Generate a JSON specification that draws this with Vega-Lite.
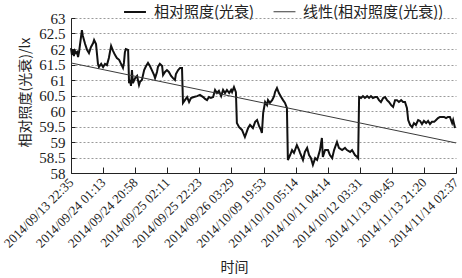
{
  "$schema": "https://vega.github.io/schema/vega-lite/v6.json",
  "autosize": {"type": "none"},
  "width": 385,
  "height": 155,
  "padding": {"left": 71, "top": 18, "right": 6, "bottom": 105},
  "background": "white",
  "config": {
    "view": {"stroke": null},
    "font": "Liberation Serif, Noto Sans CJK SC",
    "axis": {"labelFont": "Liberation Serif", "labelColor": "#222", "titleColor": "#222", "domainColor": "#222", "tickColor": "#222", "titleFontWeight": "normal"},
    "legend": {"labelFont": "Liberation Serif, Noto Sans CJK SC", "labelColor": "#222"}
  },
  "data": {
    "values": [
      {"t": 0, "v": 62.03, "s": "相对照度(光衰)"},
      {"t": 0.03, "v": 61.81, "s": "相对照度(光衰)"},
      {"t": 0.06, "v": 61.97, "s": "相对照度(光衰)"},
      {"t": 0.09, "v": 61.77, "s": "相对照度(光衰)"},
      {"t": 0.12, "v": 61.94, "s": "相对照度(光衰)"},
      {"t": 0.16, "v": 61.87, "s": "相对照度(光衰)"},
      {"t": 0.19, "v": 61.9, "s": "相对照度(光衰)"},
      {"t": 0.22, "v": 61.74, "s": "相对照度(光衰)"},
      {"t": 0.25, "v": 61.9, "s": "相对照度(光衰)"},
      {"t": 0.28, "v": 62.13, "s": "相对照度(光衰)"},
      {"t": 0.34, "v": 62.61, "s": "相对照度(光衰)"},
      {"t": 0.37, "v": 62.42, "s": "相对照度(光衰)"},
      {"t": 0.44, "v": 62.16, "s": "相对照度(光衰)"},
      {"t": 0.5, "v": 61.97, "s": "相对照度(光衰)"},
      {"t": 0.56, "v": 61.87, "s": "相对照度(光衰)"},
      {"t": 0.62, "v": 62.06, "s": "相对照度(光衰)"},
      {"t": 0.69, "v": 62.19, "s": "相对照度(光衰)"},
      {"t": 0.72, "v": 62.29, "s": "相对照度(光衰)"},
      {"t": 0.78, "v": 62.16, "s": "相对照度(光衰)"},
      {"t": 0.84, "v": 61.52, "s": "相对照度(光衰)"},
      {"t": 0.87, "v": 61.42, "s": "相对照度(光衰)"},
      {"t": 0.94, "v": 61.52, "s": "相对照度(光衰)"},
      {"t": 1.0, "v": 61.42, "s": "相对照度(光衰)"},
      {"t": 1.06, "v": 61.52, "s": "相对照度(光衰)"},
      {"t": 1.12, "v": 61.48, "s": "相对照度(光衰)"},
      {"t": 1.18, "v": 61.71, "s": "相对照度(光衰)"},
      {"t": 1.25, "v": 62.1, "s": "相对照度(光衰)"},
      {"t": 1.31, "v": 61.94, "s": "相对照度(光衰)"},
      {"t": 1.37, "v": 61.81, "s": "相对照度(光衰)"},
      {"t": 1.43, "v": 61.71, "s": "相对照度(光衰)"},
      {"t": 1.5, "v": 61.65, "s": "相对照度(光衰)"},
      {"t": 1.56, "v": 61.52, "s": "相对照度(光衰)"},
      {"t": 1.62, "v": 61.39, "s": "相对照度(光衰)"},
      {"t": 1.65, "v": 61.55, "s": "相对照度(光衰)"},
      {"t": 1.68, "v": 61.9, "s": "相对照度(光衰)"},
      {"t": 1.71, "v": 62.0, "s": "相对照度(光衰)"},
      {"t": 1.78, "v": 61.97, "s": "相对照度(光衰)"},
      {"t": 1.81, "v": 60.9, "s": "相对照度(光衰)"},
      {"t": 1.84, "v": 61.0, "s": "相对照度(光衰)"},
      {"t": 1.87, "v": 60.81, "s": "相对照度(光衰)"},
      {"t": 1.9, "v": 61.32, "s": "相对照度(光衰)"},
      {"t": 1.93, "v": 60.9, "s": "相对照度(光衰)"},
      {"t": 2.0, "v": 61.06, "s": "相对照度(光衰)"},
      {"t": 2.06, "v": 61.13, "s": "相对照度(光衰)"},
      {"t": 2.12, "v": 60.84, "s": "相对照度(光衰)"},
      {"t": 2.15, "v": 60.94, "s": "相对照度(光衰)"},
      {"t": 2.21, "v": 61.0, "s": "相对照度(光衰)"},
      {"t": 2.28, "v": 61.32, "s": "相对照度(光衰)"},
      {"t": 2.34, "v": 61.45, "s": "相对照度(光衰)"},
      {"t": 2.4, "v": 61.55, "s": "相对照度(光衰)"},
      {"t": 2.46, "v": 61.45, "s": "相对照度(光衰)"},
      {"t": 2.52, "v": 61.32, "s": "相对照度(光衰)"},
      {"t": 2.59, "v": 61.16, "s": "相对照度(光衰)"},
      {"t": 2.62, "v": 61.06, "s": "相对照度(光衰)"},
      {"t": 2.68, "v": 61.26, "s": "相对照度(光衰)"},
      {"t": 2.71, "v": 61.42, "s": "相对照度(光衰)"},
      {"t": 2.77, "v": 61.52, "s": "相对照度(光衰)"},
      {"t": 2.84, "v": 61.45, "s": "相对照度(光衰)"},
      {"t": 2.87, "v": 61.16, "s": "相对照度(光衰)"},
      {"t": 2.93, "v": 61.26, "s": "相对照度(光衰)"},
      {"t": 2.99, "v": 61.32, "s": "相对照度(光衰)"},
      {"t": 3.05, "v": 61.26, "s": "相对照度(光衰)"},
      {"t": 3.12, "v": 61.13, "s": "相对照度(光衰)"},
      {"t": 3.18, "v": 61.06, "s": "相对照度(光衰)"},
      {"t": 3.24, "v": 61.0, "s": "相对照度(光衰)"},
      {"t": 3.27, "v": 61.19, "s": "相对照度(光衰)"},
      {"t": 3.34, "v": 61.32, "s": "相对照度(光衰)"},
      {"t": 3.4, "v": 61.39, "s": "相对照度(光衰)"},
      {"t": 3.46, "v": 61.39, "s": "相对照度(光衰)"},
      {"t": 3.49, "v": 60.26, "s": "相对照度(光衰)"},
      {"t": 3.55, "v": 60.35, "s": "相对照度(光衰)"},
      {"t": 3.62, "v": 60.45, "s": "相对照度(光衰)"},
      {"t": 3.68, "v": 60.29, "s": "相对照度(光衰)"},
      {"t": 3.74, "v": 60.42, "s": "相对照度(光衰)"},
      {"t": 3.83, "v": 60.45, "s": "相对照度(光衰)"},
      {"t": 3.93, "v": 60.48, "s": "相对照度(光衰)"},
      {"t": 4.02, "v": 60.52, "s": "相对照度(光衰)"},
      {"t": 4.12, "v": 60.45, "s": "相对照度(光衰)"},
      {"t": 4.18, "v": 60.39, "s": "相对照度(光衰)"},
      {"t": 4.24, "v": 60.35, "s": "相对照度(光衰)"},
      {"t": 4.3, "v": 60.45, "s": "相对照度(光衰)"},
      {"t": 4.36, "v": 60.42, "s": "相对照度(光衰)"},
      {"t": 4.43, "v": 60.45, "s": "相对照度(光衰)"},
      {"t": 4.49, "v": 60.68, "s": "相对照度(光衰)"},
      {"t": 4.55, "v": 60.58, "s": "相对照度(光衰)"},
      {"t": 4.61, "v": 60.65, "s": "相对照度(光衰)"},
      {"t": 4.68, "v": 60.48, "s": "相对照度(光衰)"},
      {"t": 4.74, "v": 60.68, "s": "相对照度(光衰)"},
      {"t": 4.8, "v": 60.58, "s": "相对照度(光衰)"},
      {"t": 4.86, "v": 60.68, "s": "相对照度(光衰)"},
      {"t": 4.93, "v": 60.58, "s": "相对照度(光衰)"},
      {"t": 4.99, "v": 60.68, "s": "相对照度(光衰)"},
      {"t": 5.02, "v": 60.61, "s": "相对照度(光衰)"},
      {"t": 5.08, "v": 60.77, "s": "相对照度(光衰)"},
      {"t": 5.14, "v": 60.61, "s": "相对照度(光衰)"},
      {"t": 5.17, "v": 59.61, "s": "相对照度(光衰)"},
      {"t": 5.24, "v": 59.48, "s": "相对照度(光衰)"},
      {"t": 5.33, "v": 59.39, "s": "相对照度(光衰)"},
      {"t": 5.42, "v": 59.16, "s": "相对照度(光衰)"},
      {"t": 5.52, "v": 59.45, "s": "相对照度(光衰)"},
      {"t": 5.58, "v": 59.55, "s": "相对照度(光衰)"},
      {"t": 5.67, "v": 59.45, "s": "相对照度(光衰)"},
      {"t": 5.74, "v": 59.65, "s": "相对照度(光衰)"},
      {"t": 5.8, "v": 59.71, "s": "相对照度(光衰)"},
      {"t": 5.86, "v": 59.52, "s": "相对照度(光衰)"},
      {"t": 5.92, "v": 59.39, "s": "相对照度(光衰)"},
      {"t": 5.95, "v": 59.29, "s": "相对照度(光衰)"},
      {"t": 5.99, "v": 59.94, "s": "相对照度(光衰)"},
      {"t": 6.05, "v": 60.29, "s": "相对照度(光衰)"},
      {"t": 6.11, "v": 60.19, "s": "相对照度(光衰)"},
      {"t": 6.14, "v": 60.35, "s": "相对照度(光衰)"},
      {"t": 6.2, "v": 60.26, "s": "相对照度(光衰)"},
      {"t": 6.27, "v": 60.35, "s": "相对照度(光衰)"},
      {"t": 6.33, "v": 60.48, "s": "相对照度(光衰)"},
      {"t": 6.36, "v": 60.61, "s": "相对照度(光衰)"},
      {"t": 6.42, "v": 60.74, "s": "相对照度(光衰)"},
      {"t": 6.48, "v": 60.58, "s": "相对照度(光衰)"},
      {"t": 6.55, "v": 60.45, "s": "相对照度(光衰)"},
      {"t": 6.61, "v": 60.35, "s": "相对照度(光衰)"},
      {"t": 6.67, "v": 60.26, "s": "相对照度(光衰)"},
      {"t": 6.73, "v": 60.1, "s": "相对照度(光衰)"},
      {"t": 6.76, "v": 58.42, "s": "相对照度(光衰)"},
      {"t": 6.83, "v": 58.58, "s": "相对照度(光衰)"},
      {"t": 6.89, "v": 58.74, "s": "相对照度(光衰)"},
      {"t": 6.95, "v": 58.65, "s": "相对照度(光衰)"},
      {"t": 7.04, "v": 58.9, "s": "相对照度(光衰)"},
      {"t": 7.11, "v": 58.74, "s": "相对照度(光衰)"},
      {"t": 7.14, "v": 58.65, "s": "相对照度(光衰)"},
      {"t": 7.23, "v": 58.42, "s": "相对照度(光衰)"},
      {"t": 7.29, "v": 58.68, "s": "相对照度(光衰)"},
      {"t": 7.36, "v": 58.81, "s": "相对照度(光衰)"},
      {"t": 7.42, "v": 58.58, "s": "相对照度(光衰)"},
      {"t": 7.48, "v": 58.48, "s": "相对照度(光衰)"},
      {"t": 7.54, "v": 58.26, "s": "相对照度(光衰)"},
      {"t": 7.61, "v": 58.48, "s": "相对照度(光衰)"},
      {"t": 7.67, "v": 58.42, "s": "相对照度(光衰)"},
      {"t": 7.7, "v": 58.52, "s": "相对照度(光衰)"},
      {"t": 7.76, "v": 58.74, "s": "相对照度(光衰)"},
      {"t": 7.82, "v": 59.13, "s": "相对照度(光衰)"},
      {"t": 7.85, "v": 58.52, "s": "相对照度(光衰)"},
      {"t": 7.92, "v": 58.74, "s": "相对照度(光衰)"},
      {"t": 8.01, "v": 58.74, "s": "相对照度(光衰)"},
      {"t": 8.07, "v": 58.58, "s": "相对照度(光衰)"},
      {"t": 8.14, "v": 58.48, "s": "相对照度(光衰)"},
      {"t": 8.2, "v": 58.74, "s": "相对照度(光衰)"},
      {"t": 8.29, "v": 59.0, "s": "相对照度(光衰)"},
      {"t": 8.35, "v": 58.81, "s": "相对照度(光衰)"},
      {"t": 8.45, "v": 58.74, "s": "相对照度(光衰)"},
      {"t": 8.54, "v": 58.81, "s": "相对照度(光衰)"},
      {"t": 8.6, "v": 58.74, "s": "相对照度(光衰)"},
      {"t": 8.7, "v": 58.68, "s": "相对照度(光衰)"},
      {"t": 8.76, "v": 58.74, "s": "相对照度(光衰)"},
      {"t": 8.85, "v": 58.58, "s": "相对照度(光衰)"},
      {"t": 8.92, "v": 58.52, "s": "相对照度(光衰)"},
      {"t": 8.95, "v": 58.48, "s": "相对照度(光衰)"},
      {"t": 8.98, "v": 60.45, "s": "相对照度(光衰)"},
      {"t": 9.04, "v": 60.42, "s": "相对照度(光衰)"},
      {"t": 9.1, "v": 60.48, "s": "相对照度(光衰)"},
      {"t": 9.16, "v": 60.42, "s": "相对照度(光衰)"},
      {"t": 9.23, "v": 60.48, "s": "相对照度(光衰)"},
      {"t": 9.29, "v": 60.42, "s": "相对照度(光衰)"},
      {"t": 9.35, "v": 60.48, "s": "相对照度(光衰)"},
      {"t": 9.41, "v": 60.42, "s": "相对照度(光衰)"},
      {"t": 9.48, "v": 60.45, "s": "相对照度(光衰)"},
      {"t": 9.54, "v": 60.45, "s": "相对照度(光衰)"},
      {"t": 9.6, "v": 60.35, "s": "相对照度(光衰)"},
      {"t": 9.66, "v": 60.29, "s": "相对照度(光衰)"},
      {"t": 9.73, "v": 60.42, "s": "相对照度(光衰)"},
      {"t": 9.79, "v": 60.45, "s": "相对照度(光衰)"},
      {"t": 9.85, "v": 60.35, "s": "相对照度(光衰)"},
      {"t": 9.91, "v": 60.29, "s": "相对照度(光衰)"},
      {"t": 9.98, "v": 60.19, "s": "相对照度(光衰)"},
      {"t": 10.04, "v": 60.13, "s": "相对照度(光衰)"},
      {"t": 10.1, "v": 60.35, "s": "相对照度(光衰)"},
      {"t": 10.16, "v": 60.35, "s": "相对照度(光衰)"},
      {"t": 10.22, "v": 60.29, "s": "相对照度(光衰)"},
      {"t": 10.29, "v": 60.35, "s": "相对照度(光衰)"},
      {"t": 10.35, "v": 60.29, "s": "相对照度(光衰)"},
      {"t": 10.41, "v": 60.29, "s": "相对照度(光衰)"},
      {"t": 10.47, "v": 60.1, "s": "相对照度(光衰)"},
      {"t": 10.51, "v": 59.71, "s": "相对照度(光衰)"},
      {"t": 10.57, "v": 59.55, "s": "相对照度(光衰)"},
      {"t": 10.63, "v": 59.48, "s": "相对照度(光衰)"},
      {"t": 10.69, "v": 59.61, "s": "相对照度(光衰)"},
      {"t": 10.75, "v": 59.55, "s": "相对照度(光衰)"},
      {"t": 10.82, "v": 59.71, "s": "相对照度(光衰)"},
      {"t": 10.88, "v": 59.68, "s": "相对照度(光衰)"},
      {"t": 10.94, "v": 59.58, "s": "相对照度(光衰)"},
      {"t": 11.0, "v": 59.68, "s": "相对照度(光衰)"},
      {"t": 11.07, "v": 59.61, "s": "相对照度(光衰)"},
      {"t": 11.13, "v": 59.68, "s": "相对照度(光衰)"},
      {"t": 11.19, "v": 59.58, "s": "相对照度(光衰)"},
      {"t": 11.25, "v": 59.65, "s": "相对照度(光衰)"},
      {"t": 11.32, "v": 59.65, "s": "相对照度(光衰)"},
      {"t": 11.38, "v": 59.71, "s": "相对照度(光衰)"},
      {"t": 11.44, "v": 59.77, "s": "相对照度(光衰)"},
      {"t": 11.5, "v": 59.81, "s": "相对照度(光衰)"},
      {"t": 11.57, "v": 59.81, "s": "相对照度(光衰)"},
      {"t": 11.63, "v": 59.81, "s": "相对照度(光衰)"},
      {"t": 11.69, "v": 59.77, "s": "相对照度(光衰)"},
      {"t": 11.75, "v": 59.81, "s": "相对照度(光衰)"},
      {"t": 11.81, "v": 59.81, "s": "相对照度(光衰)"},
      {"t": 11.88, "v": 59.61, "s": "相对照度(光衰)"},
      {"t": 11.91, "v": 59.71, "s": "相对照度(光衰)"},
      {"t": 11.97, "v": 59.45, "s": "相对照度(光衰)"},
      {"t": 0, "v": 61.55, "s": "线性(相对照度(光衰))"},
      {"t": 12, "v": 58.97, "s": "线性(相对照度(光衰))"}
    ]
  },
  "mark": {"type": "line", "strokeJoin": "miter", "interpolate": "linear"},
  "encoding": {
    "x": {
      "field": "t",
      "type": "quantitative",
      "scale": {"domain": [0, 12], "nice": false, "zero": false},
      "axis": {
        "values": [0, 1, 2, 3, 4, 5, 6, 7, 8, 9, 10, 11, 12],
        "labelExpr": "['2014/09/13 22:35','2014/09/24 01:13','2014/09/24 20:58','2014/09/25 02:11','2014/09/25 22:23','2014/09/26 03:29','2014/10/09 19:53','2014/10/10 05:14','2014/10/11 04:14','2014/10/12 03:31','2014/11/13 00:45','2014/11/13 21:20','2014/11/14 02:37'][datum.value]",
        "labelAngle": -45,
        "labelAlign": "right",
        "labelBaseline": "middle",
        "labelFontSize": 13,
        "labelPadding": 13,
        "labelOverlap": false,
        "labelBound": false,
        "labelFlush": false,
        "tickSize": -6,
        "grid": false,
        "title": "时间",
        "titleFont": "Noto Sans CJK SC",
        "titleFontSize": 14,
        "titleX": 163,
        "titleY": 94,
        "titleBaseline": "middle",
        "titleAnchor": "middle"
      }
    },
    "y": {
      "field": "v",
      "type": "quantitative",
      "scale": {"domain": [58, 63], "nice": false, "zero": false},
      "axis": {
        "values": [58, 58.5, 59, 59.5, 60, 60.5, 61, 61.5, 62, 62.5, 63],
        "format": "~f",
        "labelFontSize": 15,
        "labelPadding": 10,
        "tickSize": -4,
        "grid": true,
        "gridColor": "#9a9a9a",
        "gridDash": [2, 2],
        "gridWidth": 1,
        "title": "相对照度(光衰)/lx",
        "titleFont": "Noto Sans CJK SC",
        "titleFontSize": 14,
        "titleX": -46,
        "titleY": 74,
        "titleAngle": -90,
        "titleAnchor": "middle",
        "titleBaseline": "middle"
      }
    },
    "color": {
      "field": "s",
      "type": "nominal",
      "scale": {"domain": ["相对照度(光衰)", "线性(相对照度(光衰))"], "range": ["#111111", "#3a3a3a"]},
      "legend": {
        "title": null,
        "orient": "none",
        "legendX": 52,
        "legendY": -18,
        "direction": "horizontal",
        "symbolType": "stroke",
        "symbolSize": 480,
        "labelFontSize": 15,
        "labelFont": "Noto Sans CJK SC",
        "labelOffset": 7,
        "columnPadding": 16,
        "labelLimit": 300
      }
    },
    "strokeWidth": {
      "field": "s",
      "type": "nominal",
      "scale": {"domain": ["相对照度(光衰)", "线性(相对照度(光衰))"], "range": [2, 1]},
      "legend": {
        "title": null,
        "orient": "none",
        "legendX": 52,
        "legendY": -18,
        "direction": "horizontal",
        "symbolType": "stroke",
        "symbolSize": 480,
        "labelFontSize": 15,
        "labelFont": "Noto Sans CJK SC",
        "labelOffset": 7,
        "columnPadding": 16,
        "labelLimit": 300
      }
    }
  }
}
